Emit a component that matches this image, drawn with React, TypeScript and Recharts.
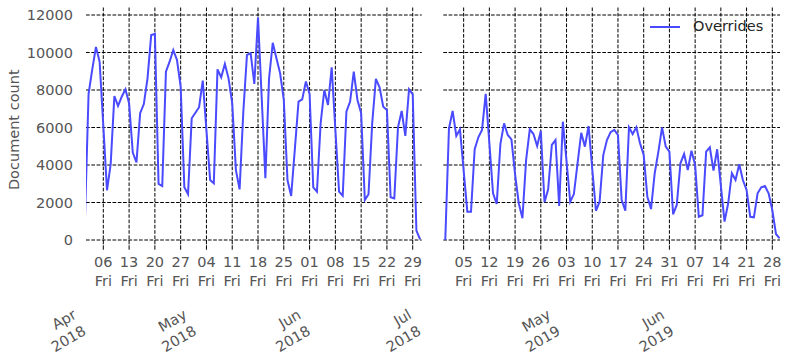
import React from 'react';
import { LineChart, Line, XAxis, YAxis, CartesianGrid, Legend } from 'recharts';

const FONT = '"DejaVu Sans", sans-serif';
const TEXT = '#555';
const BLUE = '#4a4aff';

// daily counts, 2018-04-01 .. 2018-07-01
const counts2018 = [
  1000, 7800, 9100, 10300, 9500, 6100, 2650, 4050, 7680, 7150,
  7640, 8040, 7300, 4660, 4140, 6760, 7250, 8620, 10930, 10990,
  2990, 2880, 8980, 9510, 10130, 9600, 8180, 2810, 2450, 6490,
  6790, 7080, 8500, 5850, 3200, 3020, 9100, 8680, 9390, 8620,
  7290, 3730, 2700, 6800, 9870, 9960, 8320, 11880, 7600, 3290,
  8620, 10520, 9690, 8890, 7470, 3200, 2350, 4850, 7380, 7500,
  8450, 7790, 2810, 2580, 6220, 8000, 7200, 9210, 5900, 2580,
  2360, 6840, 7380, 8980, 7470, 6760, 2130, 2440, 6220, 8590,
  8140, 7110, 6930, 2280, 2220, 6010, 6880, 5550, 8040, 7770,
  500, 40,
];

// daily counts, 2019-03-31 .. 2019-06-30
const counts2019 = [
  0, 5950, 6880, 5550, 5900, 3700, 1510, 1510, 4840, 5480,
  5870, 7790, 5150, 2490, 1920, 5120, 6220, 5600, 5370, 3500,
  1960, 1160, 4270, 5900, 5650, 5010, 5810, 2010, 2700, 5070,
  5330, 1810, 6310, 4200, 2040, 2450, 4090, 5720, 4980, 6080,
  3800, 1560, 2040, 4530, 5330, 5750, 5870, 5600, 2130, 1560,
  6010, 5650, 6010, 5160, 4530, 2310, 1650, 3560, 4710, 6010,
  4980, 4710, 1370, 1870, 4090, 4590, 3730, 4760, 4000, 1240,
  1320, 4710, 4940, 3700, 4840, 2900, 980, 1960, 3560, 3200,
  4040, 3200, 2670, 1240, 1210, 2490, 2810, 2880, 2490, 1600,
  320, 90,
];

const start2018 = '2018-04-01';
const start2019 = '2019-03-31';

const fridays2018 = [
  '2018-04-06', '2018-04-13', '2018-04-20', '2018-04-27', '2018-05-04',
  '2018-05-11', '2018-05-18', '2018-05-25', '2018-06-01', '2018-06-08',
  '2018-06-15', '2018-06-22', '2018-06-29',
];
const fridays2019 = [
  '2019-04-05', '2019-04-12', '2019-04-19', '2019-04-26', '2019-05-03',
  '2019-05-10', '2019-05-17', '2019-05-24', '2019-05-31', '2019-06-07',
  '2019-06-14', '2019-06-21', '2019-06-28',
];

const months2018 = ['2018-04-01', '2018-05-01', '2018-06-01', '2018-07-01'];
const months2019 = ['2019-05-01', '2019-06-01'];
const monthNames = ['Jan', 'Feb', 'Mar', 'Apr', 'May', 'Jun', 'Jul', 'Aug', 'Sep', 'Oct', 'Nov', 'Dec'];

const yTicks = [0, 2000, 4000, 6000, 8000, 10000, 12000];

const DAY = 86400000;
const dayOf = (start: string, d: string) => (Date.parse(d) - Date.parse(start)) / DAY;
const dateAt = (start: string, day: number) => new Date(Date.parse(start) + Math.round(day) * DAY);

const toRows = (values: number[]) => values.map((count, day) => ({ day, count }));

const fridayTick = (start: string) => (p: any) => {
  const d = dateAt(start, p.payload.value);
  const label = String(d.getUTCDate()).padStart(2, '0');
  return (
    <text x={p.x} y={p.y} textAnchor="middle" fill={TEXT} fontSize={14.5} fontFamily={FONT}>
      <tspan x={p.x} dy="0.71em">{label}</tspan>
      <tspan x={p.x} dy="1.3em">Fri</tspan>
    </text>
  );
};

const monthTick = (start: string) => (p: any) => {
  const d = dateAt(start, p.payload.value);
  return (
    <g transform={`translate(${p.x + 2},${p.y + 39}) rotate(-30)`}>
      <text textAnchor="end" fill={TEXT} fontSize={14.5} fontFamily={FONT}>
        <tspan x={0} y={-19}>{monthNames[d.getUTCMonth()]}</tspan>
        <tspan x={0} y={0}>{d.getUTCFullYear()}</tspan>
      </text>
    </g>
  );
};

const countTick = (p: any) => (
  <text x={p.x} y={p.y} dy="0.355em" textAnchor="end" fill={TEXT} fontSize={14.5} fontFamily={FONT}>
    {p.payload.value}
  </text>
);

const renderLegend = () => (
  <div style={{ display: 'flex', alignItems: 'center', fontFamily: FONT, fontSize: 14.5, color: '#262626' }}>
    <svg width={30} height={4}>
      <line x1={0} y1={2} x2={30} y2={2} stroke={BLUE} strokeWidth={2} />
    </svg>
    <span style={{ marginLeft: 13, lineHeight: '17px' }}>Overrides</span>
  </div>
);

interface PanelProps {
  values: number[];
  start: string;
  fridays: string[];
  months: string[];
  domain: [number, number];
  width: number;
  margin: { top: number; right: number; bottom: number; left: number };
  yWidth: number;
  first?: boolean;
}

const Panel = ({ values, start, fridays, months, domain, width, margin, yWidth, first }: PanelProps) => (
  <LineChart width={width} height={362} data={toRows(values)} margin={margin}>
    <CartesianGrid xAxisId="fri" stroke="#000" strokeDasharray="3.7 1.6" strokeWidth={1} syncWithTicks />
    <XAxis
      xAxisId="fri"
      type="number"
      dataKey="day"
      domain={domain}
      allowDataOverflow
      ticks={fridays.map((d) => dayOf(start, d))}
      interval={0}
      height={55}
      axisLine={false}
      tickSize={12}
      tickMargin={4.5}
      tickLine={{ stroke: '#000', strokeDasharray: '0 2.3 4.4 1 4.4' }}
      tick={fridayTick(start)}
    />
    <XAxis
      xAxisId="month"
      type="number"
      dataKey="day"
      domain={domain}
      allowDataOverflow
      ticks={months.map((d) => dayOf(start, d))}
      interval={0}
      height={67}
      axisLine={false}
      tickLine={false}
      tickSize={0}
      tickMargin={0}
      tick={monthTick(start)}
    />
    <YAxis
      domain={[0, 12400]}
      ticks={yTicks}
      interval={0}
      width={yWidth}
      axisLine={false}
      tickLine={false}
      tickMargin={7}
      tick={first ? countTick : () => <g />}
      label={
        first
          ? {
              content: ({ viewBox }: any) => (
                <text
                  transform={`translate(18.5,${viewBox.y + viewBox.height / 2 + 6}) rotate(-90)`}
                  textAnchor="middle"
                  fill={TEXT}
                  fontSize={14.5}
                  fontFamily={FONT}
                >
                  Document count
                </text>
              ),
            }
          : undefined
      }
    />
    {!first && (
      <Legend
        verticalAlign="middle"
        align="center"
        content={renderLegend}
        wrapperStyle={{ top: 18, left: 220, width: 'auto', height: 'auto' }}
      />
    )}
    <Line
      xAxisId="fri"
      type="linear"
      dataKey="count"
      name="Overrides"
      stroke={BLUE}
      strokeWidth={2}
      dot={false}
      isAnimationActive={false}
    />
  </LineChart>
);

export default function App() {
  return (
    <div style={{ position: 'absolute', left: 0, top: 0, width: 788, height: 362, background: '#fff' }}>
      <div style={{ position: 'absolute', left: 0, top: 0 }}>
        <Panel
          values={counts2018}
          start={start2018}
          fridays={fridays2018}
          months={months2018}
          domain={[0.3, 91.44]}
          width={430}
          margin={{ top: 7.5, right: 8.3, bottom: 0, left: 0 }}
          yWidth={86}
          first
        />
      </div>
      <div style={{ position: 'absolute', left: 430, top: 0 }}>
        <Panel
          values={counts2019}
          start={start2019}
          fridays={fridays2019}
          months={months2019}
          domain={[-0.54, 91.1]}
          width={358}
          margin={{ top: 7.5, right: 8, bottom: 0, left: 13.3 }}
          yWidth={0}
        />
      </div>
    </div>
  );
}
